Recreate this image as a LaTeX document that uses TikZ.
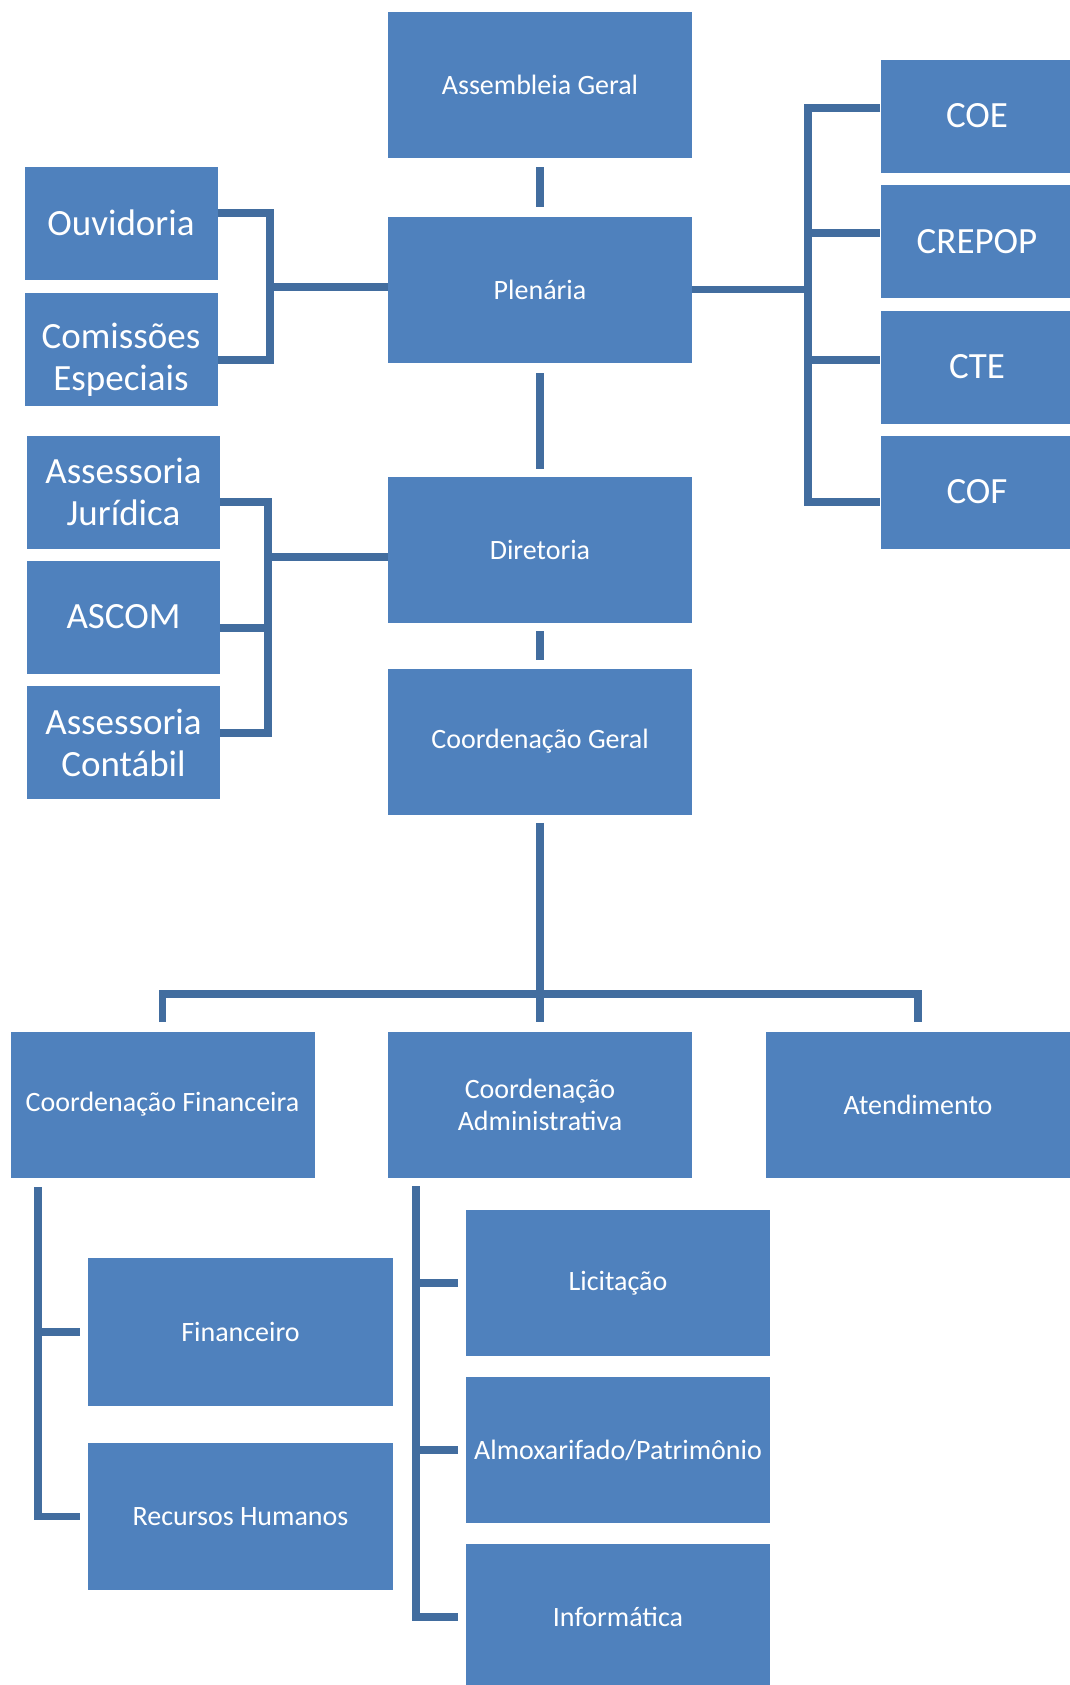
\documentclass[tikz,border=0pt]{standalone}
\usepackage{fontspec}
\setmainfont{Carlito}
\definecolor{boxblue}{HTML}{4F81BD}
\definecolor{lineblue}{HTML}{426D9F}
\begin{document}
\begin{tikzpicture}[x=0.75pt,y=-0.75pt,
  box/.style={fill=boxblue, text=white, inner sep=0pt, align=center,
    minimum width=228pt, minimum height=109.5pt, font=\fontsize{21}{24}\selectfont},
  sbox/.style={fill=boxblue, text=white, inner sep=0pt, align=center,
    minimum width=144.75pt, minimum height=84.75pt, font=\fontsize{27.75}{31.5}\selectfont},
  conn/.style={draw=lineblue, line width=5.8pt, line join=miter}]
\useasboundingbox (0,0) rectangle (1070,1685);
\fill[white] (0,0) rectangle (1070,1685);

% central column
\node[box] (asm) at (540,85) {Assembleia Geral};
\node[box] (plen) at (540,289.5) {Plenária};
\node[box] (dir) at (540,549.5) {Diretoria};
\node[box] (cg) at (540,741.5) {Coordenação Geral};

% bottom row
\node[box] (cf) at (162.5,1104.5) {Coordenação Financeira};
\node[box] (ad) at (540,1104.5) {Coordenação\\Administrativa};
\node[box] (at) at (918,1104.5) {Atendimento};

\node[box, minimum width=228.75pt, minimum height=111pt] (fin) at (240.5,1332) {Financeiro};
\node[box, minimum width=228.75pt, minimum height=110pt] (rh) at (240.5,1516.5) {Recursos Humanos};
\node[box] (lic) at (618,1283) {Licitação};
\node[box] (alm) at (618,1450) {Almoxarifado/Patrimônio};
\node[box] (inf) at (618,1617) {Informática};

% left groups
\node[sbox] (ouv) at (121,223) {Ouvidoria};
\node[sbox] (com) at (121,349) {\raisebox{-9pt}[\height][\depth]{\begin{tabular}{@{}c@{}}Comissões\\Especiais\end{tabular}}};
\node[sbox] (jur) at (123.5,492) {Assessoria\\Jurídica};
\node[sbox] (asc) at (123.5,617) {ASCOM};
\node[sbox] (con) at (123.5,742.5) {Assessoria\\Contábil};

% right group
\node[sbox] (coe) at (977,116) {COE};
\node[sbox] (crp) at (977,241.5) {CREPOP};
\node[sbox] (cte) at (977,367) {CTE};
\node[sbox] (cof) at (977,492) {COF};

% vertical connectors in centre
\draw[conn, shorten <=6.75pt, shorten >=6.75pt] (asm) -- (plen);
\draw[conn, shorten <=8pt, shorten >=5.5pt] (plen) -- (dir);
\draw[conn, shorten <=6.5pt, shorten >=6pt] (dir) -- (cg);

% bus to bottom row
\coordinate (bus) at (540,994);
\draw[conn, shorten <=6pt] (cg.south) -- (bus);
\draw[conn] ([yshift=6.75pt]cf.north) -- (cf.north |- bus) -- (at.north |- bus) -- ([yshift=6.75pt]at.north);
\draw[conn, shorten >=6.75pt] (bus) -- (ad.north);

% left top bracket (Ouvidoria / Comissoes)
\coordinate (lt1) at (270,213);
\coordinate (lt2) at (270,360);
\coordinate (ltm) at (270,287);
\draw[conn] (ouv.east |- lt1) -- (lt1) -- (lt2) -- (com.east |- lt2);
\draw[conn] (ltm) -- (plen.west |- ltm);

% right bracket
\coordinate (rt1) at (808,108);
\coordinate (rt2) at (808,233);
\coordinate (rt3) at (808,360);
\coordinate (rt4) at (808,502);
\draw[conn] (coe.west |- rt1) -- (rt1) -- (rt4) -- (cof.west |- rt4);
\draw[conn] (rt2) -- (crp.west |- rt2);
\draw[conn] (rt3) -- (cte.west |- rt3);
\draw[conn] (plen.east) -- (plen.east -| rt1);

% Diretoria bracket
\coordinate (dj) at (268,502);
\coordinate (da) at (268,628);
\coordinate (dc) at (268,733);
\coordinate (dm) at (268,557);
\draw[conn] (jur.east |- dj) -- (dj) -- (dc) -- (con.east |- dc);
\draw[conn] (asc.east |- da) -- (da);
\draw[conn] (dm) -- (dir.west |- dm);

% Coordenacao Financeira bracket
\coordinate (cft) at (38,1187);
\draw[conn] (cft) -- (cft |- rh.west) -- ([xshift=-6pt]rh.west);
\draw[conn] (cft |- fin.west) -- ([xshift=-6pt]fin.west);

% Coordenacao Administrativa bracket
\coordinate (adt) at (416,1186);
\draw[conn] (adt) -- (adt |- inf.west) -- ([xshift=-6pt]inf.west);
\draw[conn] (adt |- lic.west) -- ([xshift=-6pt]lic.west);
\draw[conn] (adt |- alm.west) -- ([xshift=-6pt]alm.west);
\end{tikzpicture}
\end{document}
